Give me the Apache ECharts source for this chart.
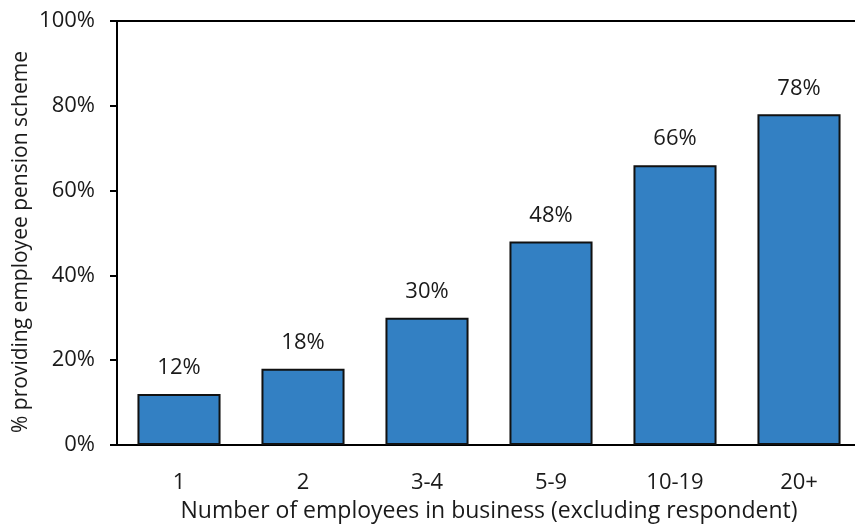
<!DOCTYPE html>
<html>
<head>
<meta charset="utf-8">
<script src="https://cdn.jsdelivr.net/npm/echarts@6/dist/echarts.min.js"></script>
<style>
  html, body { margin: 0; padding: 0; background: #fff; }
  #chart { width: 855px; height: 528px; }
</style>
</head>
<body>
<div id="chart"></div>
<script>
// Employee counts (excluding the respondent)
var categories = ['1', '2', '3-4', '5-9', '10-19', '20+'];
// Share of businesses providing an employee pension scheme, %
var pensionShare = [12, 18, 30, 48, 66, 78];
// Y axis range and step, %
var yMin = 0, yMax = 100, yStep = 20;

var font = '"Open Sans", "Noto Sans", sans-serif';
var textColor = '#1a1a1a';

var chart = echarts.init(document.getElementById('chart'), null, { renderer: 'canvas' });
chart.setOption({
  animation: false,
  grid: {
    left: 117, top: 21, right: -6, bottom: 83,
    containLabel: false,
    outerBoundsMode: 'none'
  },
  xAxis: [{
    type: 'category',
    data: categories,
    position: 'bottom',
    axisLine: { lineStyle: { color: '#000', width: 2 } },
    axisTick: { show: false },
    axisLabel: { color: textColor, fontSize: 22, fontFamily: font, margin: 27 },
    name: 'Number of employees in business (excluding respondent)',
    nameLocation: 'middle',
    nameGap: 55,
    nameMoveOverlap: false,
    nameTextStyle: { color: textColor, fontSize: 23, fontFamily: font }
  }, {
    // plain frame line along the top of the plot
    type: 'category',
    data: categories,
    position: 'top',
    axisLine: { show: true, lineStyle: { color: '#000', width: 2 } },
    axisTick: { show: false },
    axisLabel: { show: false }
  }],
  yAxis: {
    type: 'value',
    min: yMin,
    max: yMax,
    interval: yStep,
    axisLine: { show: true, lineStyle: { color: '#000', width: 2 } },
    axisTick: { show: true, length: 7, lineStyle: { color: '#000', width: 2 } },
    splitLine: { show: false },
    axisLabel: {
      color: textColor, fontSize: 22, fontFamily: font, margin: 22,
      formatter: function (v) { return v + '%'; }
    },
    name: '% providing employee pension scheme',
    nameLocation: 'middle',
    nameGap: 85,
    nameMoveOverlap: false,
    nameTextStyle: { color: textColor, fontSize: 21, fontFamily: font, padding: [0, 18, 0, 0] }
  },
  series: [{
    type: 'bar',
    data: pensionShare,
    barWidth: '67%',
    itemStyle: { color: '#3380C3', borderColor: '#111', borderWidth: 2 },
    label: {
      show: true,
      position: 'top',
      distance: 15,
      color: textColor,
      fontSize: 22,
      fontFamily: font,
      formatter: function (p) { return Math.round(p.value) + '%'; }
    }
  }]
});
</script>
</body>
</html>
